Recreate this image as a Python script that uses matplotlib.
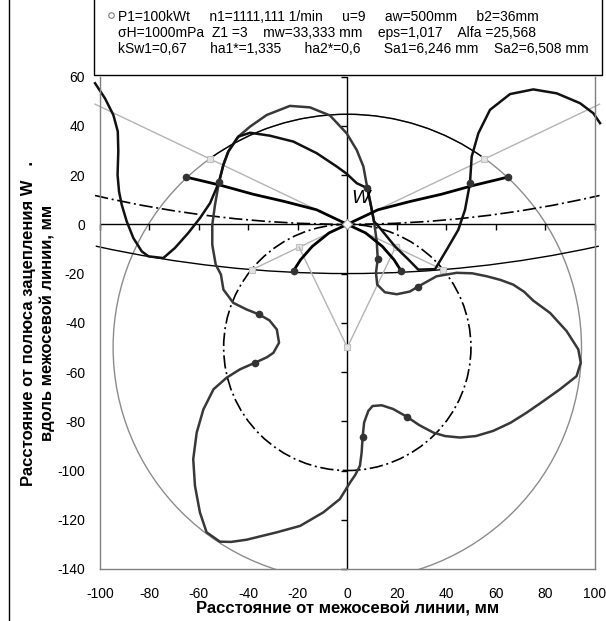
import matplotlib
matplotlib.use("Agg")
import matplotlib.pyplot as plt
from matplotlib.patches import Circle, Arc, Rectangle
from matplotlib.lines import Line2D

plt.rcParams["font.family"] = ["Liberation Sans", "DejaVu Sans"]
plt.rcParams["axes.unicode_minus"] = False

# ---- data ----
x_ticks = [-100, -80, -60, -40, -20, 0, 20, 40, 60, 80, 100]
y_ticks = [-140, -120, -100, -80, -60, -40, -20, 0, 20, 40, 60]

# pinion tooth profile (closed)
pinion_x = [-51.9, -50.1, -48.1, -44.1, -39.3, -32.6, -23.2, -15.1, -7.0, -0.3, 3.8, 6.5,
            8.1, 9.5, 10.8, 11.9, 12.3, 11.6, 12.1, 15.2, 20.0, 25.3, 28.6, 36.1, 44.2,
            50.5, 56.4, 62.0, 67.1, 71.5, 75.2, 82.0, 88.7, 93.4, 94.4, 92.7, 86.0, 79.0,
            72.5, 66.0, 59.0, 52.0, 45.6, 39.5, 34.8, 29.0, 24.0, 18.5, 13.9, 10.2, 8.5,
            6.8, 6.2, 5.8, 5.1, 3.2, 1.1, -3.0, -9.7, -19.1, -28.5, -40.7, -47.0, -51.5,
            -56.9, -59.6, -61.6, -62.3, -60.9, -58.2, -54.1, -48.8, -43.4, -37.3, -32.5,
            -29.9, -27.6, -28.5, -31.5, -35.7, -40.7, -46.1, -50.1, -51.1, -53.2, -54.6,
            -54.6, -53.5, -51.9]
pinion_y = [17.1, 24.2, 29.6, 35.6, 39.7, 44.4, 48.1, 47.5, 44.2, 37.0, 30.2, 23.5,
            14.7, 7.9, 1.2, -6.9, -14.0, -19.7, -24.5, -27.6, -28.4, -27.3, -25.3, -21.1,
            -19.7, -19.9, -21.1, -22.6, -24.5, -27.4, -31.0, -36.0, -43.4, -50.8, -56.2,
            -61.7, -67.0, -72.0, -76.5, -80.6, -83.9, -86.0, -86.6, -86.0, -84.6, -81.5,
            -78.1, -75.0, -73.5, -73.8, -75.8, -80.5, -86.4, -92.7, -98.1, -101.8, -104.9,
            -111.6, -117.0, -122.5, -125.1, -128.1, -129.0, -128.9, -125.1, -117.0, -106.2,
            -95.4, -84.6, -75.2, -67.0, -62.3, -58.9, -56.2, -54.0, -52.2, -48.1, -42.7,
            -39.0, -36.6, -34.6, -31.9, -26.5, -20.4, -16.4, -8.3, -0.2, 7.9, 17.1]

# wheel profile
wheel_x = [-102.0, -98.0, -94.6, -92.8, -92.6, -92.9, -92.3, -91.2, -89.2, -86.5, -83.1,
           -80.4, -74.4, -69.7, -64.3, -59.6, -55.5, -53.5, -51.9, -50.1, -48.1, -44.1,
           -39.3, -31.3, -21.8, -12.4, -4.3, -0.2, 3.8, 8.1, 9.5, 10.8, 13.2, 19.3, 24.7,
           28.7, 35.5, 40.2, 44.9, 47.6, 49.6, 50.3, 53.0, 57.7, 65.8, 75.2, 84.7, 94.1,
           99.5, 102.2]
wheel_y = [57.3, 51.2, 44.4, 37.7, 29.6, 20.1, 13.3, 7.9, 1.2, -5.6, -11.0, -13.0, -13.7,
           -9.6, -3.5, 2.5, 8.6, 13.3, 17.1, 24.2, 29.6, 35.6, 37.2, 36.0, 33.6, 28.9,
           23.5, 20.5, 16.7, 14.7, 7.9, 1.2, -1.5, -9.0, -14.3, -18.4, -18.2, -10.3, -2.2,
           5.9, 16.7, 27.5, 37.0, 46.5, 52.9, 54.8, 53.2, 49.2, 45.1, 41.1]

# thick lines through the pole W
upper_x = [-65.2, -51.0, -38.0, -25.5, -12.4, 0, 12.4, 25.5, 38.0, 51.0, 65.0]
upper_y = [19.2, 15.8, 12.2, 9.3, 5.9, 0, 5.9, 9.3, 12.2, 15.8, 19.2]
lower_x = [-21.7, -18.9, -14.2, -7.4, 0, 7.4, 14.2, 18.9, 21.7]
lower_y = [-18.8, -14.4, -9.0, -3.5, 0, -3.5, -9.0, -14.4, -18.8]

# lines of action (grey)
act1_x = [-102.0, -55.4, 0, 19.5, 38.5]
act1_y = [48.8, 26.5, 0, -9.3, -18.4]
act2_x = [102.0, 55.4, 0, -19.5, -38.5]
act2_y = [48.8, 26.5, 0, -9.3, -18.4]
rad_x = [-19.5, 0, 19.5]
rad_y = [-9.3, -50.0, -9.3]

# contact points
dot_x = [-65.2, 65.0, -51.9, 49.6, 8.1, 12.3, -21.7, 21.7, 28.6, 24.0, 6.2, -37.3, -35.7]
dot_y = [19.2, 19.2, 17.1, 16.7, 14.7, -14.0, -18.8, -18.8, -25.3, -78.1, -86.4, -56.2, -36.6]

# circles: pinion centre (0,-50), wheel centre (0,450)
pinion_c = (0, -50)
pinion_ra = 94.7
pinion_rw = 50
wheel_c = (0, 450)
wheel_rw = 450
wheel_ra = 470
top_arc = (54.1, 125.9)
wheel_pitch_arc = (256.9, 283.1)
wheel_tip_arc = (257.5, 282.5)

legend_lines = [
    "P1=100kWt     n1=1111,111 1/min     u=9     aw=500mm     b2=36mm",
    "σH=1000mPa  Z1 =3    mw=33,333 mm    eps=1,017    Alfa =25,568",
    "kSw1=0,67      ha1*=1,335      ha2*=0,6      Sa1=6,246 mm    Sa2=6,508 mm",
]

W, H = 606, 621
fig = plt.figure(figsize=(W / 100, H / 100), dpi=100)
ax = fig.add_axes([100 / W, 1 - 569 / H, 494.6 / W, (569 - 76.6) / H])
ax.set_xlim(-100, 100)
ax.set_ylim(-140, 60)

dashdot = (0, (8, 2.2, 1.2, 2.2))

ax.add_patch(Circle(pinion_c, pinion_ra, fill=False, ec="#8c8c8c", lw=1))
ax.add_patch(Arc(pinion_c, 2 * pinion_ra, 2 * pinion_ra, theta1=top_arc[0], theta2=top_arc[1],
                 ec="black", lw=1))
ax.add_patch(Circle(pinion_c, pinion_rw, fill=False, ec="black", lw=1.2, ls=dashdot))
ax.add_patch(Arc(wheel_c, 2 * wheel_rw, 2 * wheel_rw, theta1=wheel_pitch_arc[0],
                 theta2=wheel_pitch_arc[1], ec="black", lw=1.2, ls=dashdot, clip_on=False))
ax.add_patch(Arc(wheel_c, 2 * wheel_ra, 2 * wheel_ra, theta1=wheel_tip_arc[0],
                 theta2=wheel_tip_arc[1], ec="black", lw=1, clip_on=False))

# zero axes with ticks
ax.axhline(0, color="black", lw=1)
ax.axvline(0, color="black", lw=1)
ax.plot(x_ticks, [0] * len(x_ticks), ls="none", marker=3, ms=4, mew=1, color="black", clip_on=False)
ax.plot([0] * len(y_ticks), y_ticks, ls="none", marker=0, ms=4, mew=1, color="black", clip_on=False)

grey = "#b4b4b4"
for xs, ys in [(act1_x, act1_y), (act2_x, act2_y), (rad_x, rad_y)]:
    ax.plot(xs, ys, color=grey, lw=1, clip_on=False)
    ax.plot(xs[1:], ys[1:], ls="none", marker="s", ms=4.5, mfc="#e2e2e2", mec="#c0c0c0", mew=0.8)

ax.plot(pinion_x, pinion_y, color="#383838", lw=1.8, solid_joinstyle="round")
ax.plot(wheel_x, wheel_y, color="#111111", lw=1.8, solid_joinstyle="round", clip_on=False)
ax.plot(upper_x, upper_y, color="black", lw=2, solid_joinstyle="round")
ax.plot(lower_x, lower_y, color="black", lw=2, solid_joinstyle="round")
ax.plot(dot_x, dot_y, ls="none", marker="o", ms=4.5, mfc="#333333", mec="#333333")
ax.plot([0], [0], ls="none", marker="D", ms=5, mfc="white", mec="#a0a0a0", mew=0.8)

ax.text(1.5, 8.6, "W", fontsize=14, style="italic", ha="left", va="baseline")

for s in ax.spines.values():
    s.set_color("#808080")
    s.set_linewidth(1)
ax.spines["top"].set_visible(False)
ax.set_xticks(x_ticks)
ax.set_yticks(y_ticks)
ax.tick_params(length=0, labelsize=10)
ax.tick_params(axis="x", pad=13)
ax.tick_params(axis="y", pad=10.8)

ax.set_xlabel("Расстояние от межосевой линии, мм", fontsize=12, fontweight="bold", labelpad=0)
fig.text(38 / W, 1 - 323 / H,
         "Расстояние от полюса зацепления W   .\nвдоль межосевой линии, мм",
         rotation=90, ha="center", va="center", fontsize=12, fontweight="bold",
         multialignment="center", linespacing=1.3)

# legend box
fig.add_artist(Rectangle((94 / W, 1 - 75 / H), 508 / W, 80 / H, transform=fig.transFigure,
                         fill=True, fc="white", ec="black", lw=1, zorder=5))
fig.add_artist(Line2D([111 / W], [1 - 15 / H], transform=fig.transFigure, ls="none",
                      marker="o", ms=4, mfc="white", mec="#808080", mew=0.8, zorder=6))
for i, line in enumerate(legend_lines):
    fig.text(118 / W, 1 - (21 + 16 * i) / H, line, fontsize=10, va="baseline", ha="left", zorder=6)

# chart area border (left edge)
fig.add_artist(Line2D([8.5 / W, 8.5 / W], [0, 1], transform=fig.transFigure, color="black", lw=1))

fig.savefig("out.png", dpi=100)
